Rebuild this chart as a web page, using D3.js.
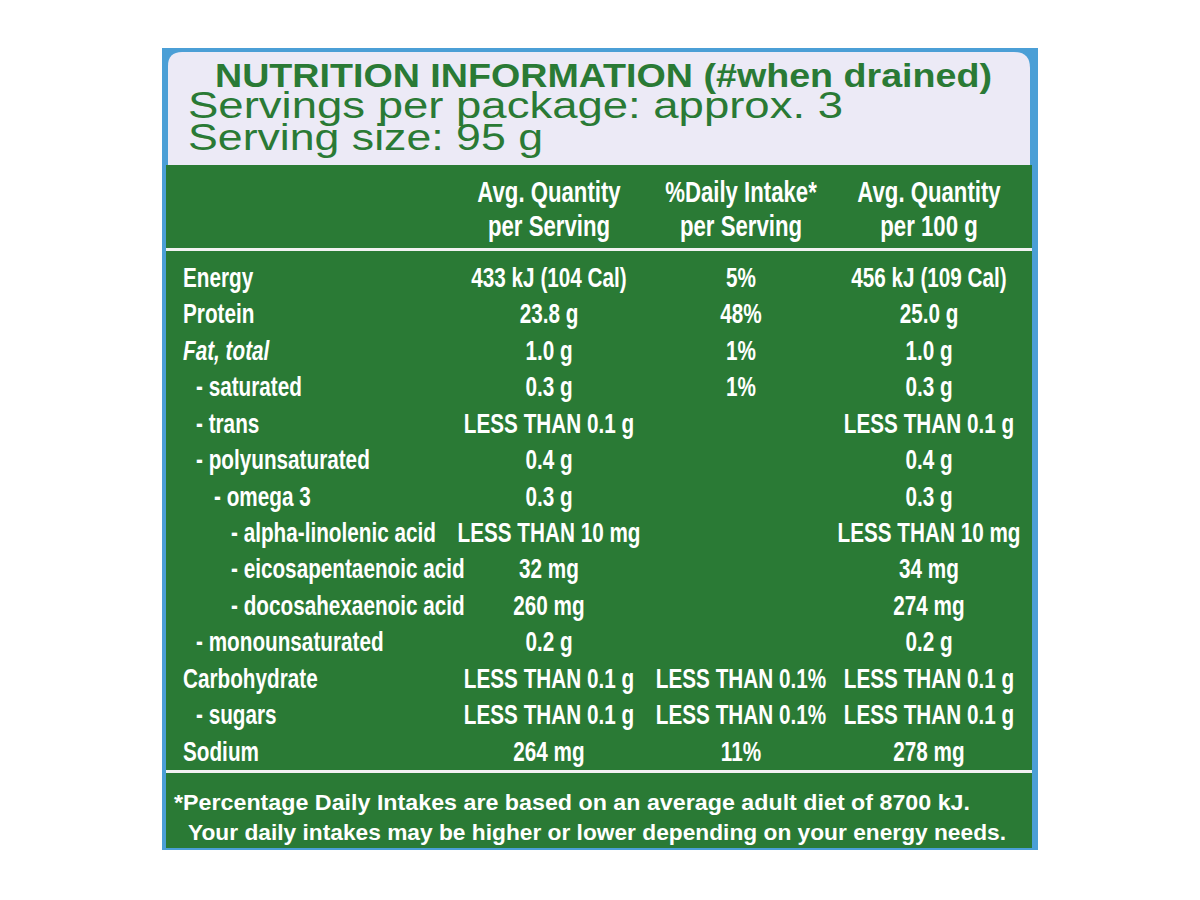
<!DOCTYPE html>
<html><head><meta charset="utf-8">
<script src="https://cdn.jsdelivr.net/npm/d3@7"></script>
<style>body{margin:0;background:#fff}</style>
</head><body>
<script>
(function() {
  var nutrients = ['Energy', 'Protein', 'Fat, total', '- saturated', '- trans', '- polyunsaturated',
    '- omega 3', '- alpha-linolenic acid', '- eicosapentaenoic acid', '- docosahexaenoic acid',
    '- monounsaturated', 'Carbohydrate', '- sugars', 'Sodium'];
  var indentLevel = [0, 0, 0, 1, 1, 1, 2, 3, 3, 3, 1, 0, 1, 0];
  var perServing = ['433 kJ (104 Cal)', '23.8 g', '1.0 g', '0.3 g', 'LESS THAN 0.1 g', '0.4 g', '0.3 g',
    'LESS THAN 10 mg', '32 mg', '260 mg', '0.2 g', 'LESS THAN 0.1 g', 'LESS THAN 0.1 g', '264 mg'];
  var dailyIntake = ['5%', '48%', '1%', '1%', '', '', '', '', '', '', '', 'LESS THAN 0.1%', 'LESS THAN 0.1%', '11%'];
  var per100g = ['456 kJ (109 Cal)', '25.0 g', '1.0 g', '0.3 g', 'LESS THAN 0.1 g', '0.4 g', '0.3 g',
    'LESS THAN 10 mg', '34 mg', '274 mg', '0.2 g', 'LESS THAN 0.1 g', 'LESS THAN 0.1 g', '278 mg'];
  var colHeads = [['Avg. Quantity', 'per Serving'], ['%Daily Intake*', 'per Serving'], ['Avg. Quantity', 'per 100 g']];

  var green = '#2a7a35';
  var font = '"Liberation Sans", Arial, sans-serif';
  var squeeze = 0.74;

  var svg = d3.select('body').append('svg').attr('width', 1200).attr('height', 900);

  svg.append('rect').attr('x', 162).attr('y', 48).attr('width', 876).attr('height', 802).attr('fill', '#4b9fd6');
  svg.append('path').attr('d', 'M168,165 V66 Q168,52 182,52 H1014 Q1030,52 1030,68 V165 Z').attr('fill', '#eceaf6');
  svg.append('rect').attr('x', 166).attr('y', 165).attr('width', 866).attr('height', 683).attr('fill', green);
  svg.append('rect').attr('x', 166).attr('y', 248).attr('width', 866).attr('height', 3).attr('fill', '#f2f2f2');
  svg.append('rect').attr('x', 166).attr('y', 770).attr('width', 866).attr('height', 3).attr('fill', '#f2f2f2');

  function fitText(x, yy, len, style, fill, txt) {
    svg.append('text').attr('x', x).attr('y', yy).attr('fill', fill).style('font', style)
      .attr('textLength', len).attr('lengthAdjust', 'spacingAndGlyphs').text(txt);
  }
  fitText(215, 87, 777, 'bold 33px ' + font, green, 'NUTRITION INFORMATION (#when drained)');
  fitText(188, 118, 655, '36px ' + font, green, 'Servings per package: approx. 3');
  fitText(188, 150, 355, '36px ' + font, green, 'Serving size: 95 g');

  var colX = d3.scaleOrdinal().domain([0, 1, 2]).range([549, 741, 929]);

  function sq(sel, x, yy, anchor, size) {
    return sel.append('g').attr('transform', 'translate(' + x + ',' + yy + ') scale(' + squeeze + ',1)')
      .append('text').attr('text-anchor', anchor).attr('fill', '#fff').style('font', 'bold ' + size + 'px ' + font);
  }

  colHeads.forEach(function(h, i) {
    h.forEach(function(line, j) {
      sq(svg, colX(i), 202 + j * 34, 'middle', 30).text(line);
    });
  });

  var y = d3.scaleBand().domain(d3.range(nutrients.length)).range([260, 770]).padding(0);
  var indent = d3.scaleOrdinal().domain([0, 1, 2, 3]).range([183, 196, 214, 231]);

  nutrients.forEach(function(d, i) {
    var yy = y(i) + 27;
    sq(svg, indent(indentLevel[i]), yy, 'start', 28)
      .style('font-style', d === 'Fat, total' ? 'italic' : 'normal').text(d);
    [perServing, dailyIntake, per100g].forEach(function(arr, c) {
      if (arr[i]) sq(svg, colX(c), yy, 'middle', 28).text(arr[i]);
    });
  });

  fitText(174, 810, 796, 'bold 22px ' + font, '#fff', '*Percentage Daily Intakes are based on an average adult diet of 8700 kJ.');
  fitText(188, 840, 818, 'bold 22px ' + font, '#fff', 'Your daily intakes may be higher or lower depending on your energy needs.');
})();
</script>
</body></html>
